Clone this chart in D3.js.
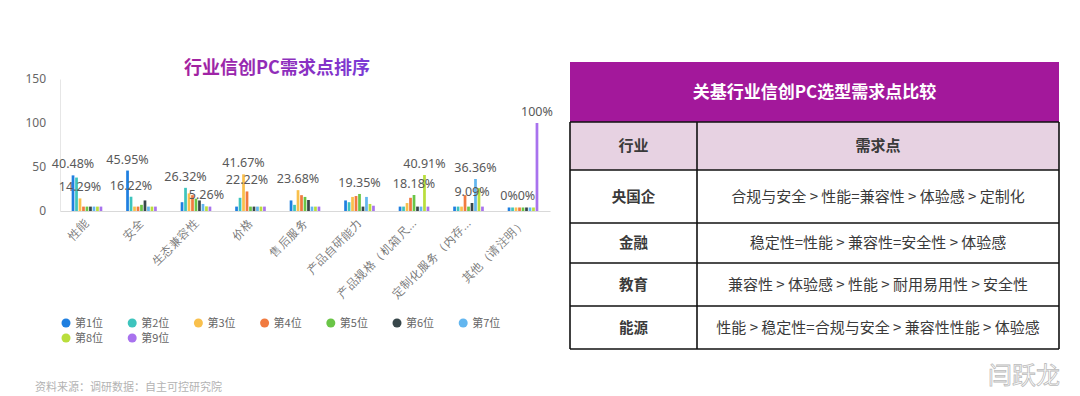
<!DOCTYPE html>
<html>
<head>
<meta charset="utf-8">
<script src="https://cdn.jsdelivr.net/npm/d3@7/dist/d3.min.js"></script>
<style>
  body { margin: 0; background: #fff; }
  svg { display: block; font-family: "Noto Sans CJK SC", "Noto Sans", sans-serif; }
</style>
</head>
<body>
<div class="chart"></div>
<script>
// data
var categories = ['性能', '安全', '生态兼容性', '价格', '售后服务', '产品自研能力', '产品规格（机箱尺...', '定制化服务（内存...', '其他（请注明）'];
var seriesNames = ['第1位', '第2位', '第3位', '第4位', '第5位', '第6位', '第7位', '第8位', '第9位'];
var seriesColors = ['#1f7fe0', '#3ec4bd', '#f9c04c', '#f17a3f', '#6ac547', '#38474a', '#63b6ef', '#b9de3c', '#a872ee'];
// one row per category, one value per rank
var rankValues = [
  [40.48, 38, 14.29, 5, 5, 5, 5, 5, 5],
  [45.95, 16.22, 5, 5, 7, 12, 5, 5, 5],
  [10, 26.32, 20, 18, 14, 12, 8, 5.26, 5],
  [5, 15, 41.67, 22.22, 5, 5, 5, 5, 5],
  [12, 7, 23.68, 18, 16, 12.5, 5, 5, 5],
  [12, 10, 16, 17, 19.35, 5, 16, 8, 6],
  [5, 5, 9, 15, 18.18, 5, 5, 40.91, 5],
  [5, 5, 5, 18, 5, 9.09, 36.36, 26, 5],
  [4, 4, 4, 4, 4, 4, 4, 4, 100]
];
var labelSeries = [[0, 2], [0, 1], [1, 7], [2, 3], [2], [4], [7, 4], [6, 5], [0, 5, 8]];
var labelTexts = [['40.48%', '14.29%'], ['45.95%', '16.22%'], ['26.32%', '5.26%'], ['41.67%', '22.22%'], ['23.68%'], ['19.35%'], ['40.91%', '18.18%'], ['36.36%', '9.09%'], ['0%', '0%', '100%']];
var yTicks = [0, 50, 100, 150];
var chartTitle = '行业信创PC需求点排序';
var sourceNote = '资料来源：调研数据：自主可控研究院';

var tableTitle = '关基行业信创PC选型需求点比较';
var tableHeads = ['行业', '需求点'];
var industries = ['央国企', '金融', '教育', '能源'];
var demands = [
  '合规与安全 > 性能=兼容性 > 体验感 > 定制化',
  '稳定性=性能 > 兼容性=安全性 > 体验感',
  '兼容性 > 体验感 > 性能 > 耐用易用性 > 安全性',
  '性能 > 稳定性=合规与安全 > 兼容性性能 > 体验感'
];

var width = 1080, height = 396;
var svg = d3.select('.chart').append('svg')
  .attr('width', width)
  .attr('height', height);

// ---- bar chart ----
var x = d3.scaleBand().domain(categories).range([60, 550]).paddingInner(0.41).paddingOuter(0.2);
var xs = d3.scaleBand().domain(d3.range(seriesNames.length)).range([0, x.bandwidth()]).padding(0.22);
var y = d3.scaleLinear().domain([0, 150]).range([211, 79]);

var grad = svg.append('defs').append('linearGradient').attr('id', 'titleGrad');
grad.append('stop').attr('offset', '0%').attr('stop-color', '#a5209e');
grad.append('stop').attr('offset', '100%').attr('stop-color', '#7a3ad6');

svg.append('text')
  .attr('x', 277).attr('y', 74)
  .attr('text-anchor', 'middle')
  .attr('font-size', 18).attr('font-weight', 'bold')
  .attr('fill', 'url(#titleGrad)')
  .text(chartTitle);

var yAxis = svg.append('g')
  .attr('transform', 'translate(60,0)')
  .call(d3.axisLeft(y).tickValues(yTicks).tickSize(0).tickPadding(14));
yAxis.select('.domain').attr('stroke', '#e6e6e6');
yAxis.selectAll('text').attr('font-size', 12).attr('fill', '#666').attr('font-family', '"Noto Sans", sans-serif');

var xAxis = svg.append('g')
  .attr('transform', 'translate(0,211)')
  .call(d3.axisBottom(x).tickSize(0).tickSizeOuter(0));
xAxis.select('.domain').attr('stroke', '#d9d9d9');
xAxis.selectAll('text')
  .attr('font-size', 11.5).attr('fill', '#777')
  .attr('text-anchor', 'end')
  .attr('dy', 0)
  .attr('transform', 'translate(3,13) rotate(-45)')
  .attr('y', 0).attr('x', 0);

var groups = svg.selectAll('.cat')
  .data(categories)
  .enter().append('g')
  .attr('class', 'cat')
  .attr('transform', function (d) { return 'translate(' + x(d) + ',0)'; });

groups.selectAll('rect')
  .data(function (d, i) { return rankValues[i]; })
  .enter().append('rect')
  .attr('x', function (d, j) { return xs(j); })
  .attr('y', function (d) { return y(d); })
  .attr('width', xs.bandwidth())
  .attr('height', function (d) { return y(0) - y(d); })
  .attr('fill', function (d, j) { return seriesColors[j]; });

groups.selectAll('.val')
  .data(function (d, i) {
    return labelSeries[i].map(function (s, k) { return { s: s, v: rankValues[i][s], t: labelTexts[i][k] }; });
  })
  .enter().append('text')
  .attr('class', 'val')
  .attr('x', function (d) { return xs(d.s) + xs.bandwidth() / 2; })
  .attr('y', function (d) { return y(d.v) - 7; })
  .attr('text-anchor', 'middle')
  .attr('font-size', 12.5)
  .attr('font-family', '"Noto Sans", sans-serif')
  .attr('fill', '#595959')
  .text(function (d) { return d.t; });

// legend, 7 per row
var legend = svg.selectAll('.leg')
  .data(seriesNames)
  .enter().append('g')
  .attr('class', 'leg')
  .attr('transform', function (d, i) { return 'translate(' + (66 + (i % 7) * 66.2) + ',' + (323 + Math.floor(i / 7) * 15) + ')'; });
legend.append('circle').attr('r', 4.5).attr('fill', function (d, i) { return seriesColors[i]; });
legend.append('text')
  .attr('x', 9).attr('y', 4)
  .attr('font-size', 11).attr('fill', '#666')
  .text(function (d) { return d; });

svg.append('text')
  .attr('x', 35).attr('y', 391)
  .attr('font-size', 11).attr('fill', '#b3b3b3')
  .text(sourceNote);

// ---- table ----
var tLeft = 570, tRight = 1059, tDivide = 697;
var rowEdges = [62, 122, 170, 223, 263, 306, 349];

svg.append('rect')
  .attr('x', tLeft).attr('y', rowEdges[0])
  .attr('width', tRight - tLeft).attr('height', rowEdges[1] - rowEdges[0])
  .attr('fill', '#a3189b');
svg.append('text')
  .attr('x', (tLeft + tRight) / 2).attr('y', (rowEdges[0] + rowEdges[1]) / 2 + 6)
  .attr('text-anchor', 'middle')
  .attr('font-size', 17).attr('font-weight', 'bold').attr('fill', '#fff')
  .text(tableTitle);

svg.append('rect')
  .attr('x', tLeft).attr('y', rowEdges[1])
  .attr('width', tRight - tLeft).attr('height', rowEdges[2] - rowEdges[1])
  .attr('fill', '#e7d2e2');

var colCenters = [(tLeft + tDivide) / 2, (tDivide + tRight) / 2];
svg.selectAll('.thead')
  .data(tableHeads)
  .enter().append('text')
  .attr('class', 'thead')
  .attr('x', function (d, i) { return colCenters[i]; })
  .attr('y', (rowEdges[1] + rowEdges[2]) / 2 + 5)
  .attr('text-anchor', 'middle')
  .attr('font-size', 15).attr('font-weight', 'bold').attr('fill', '#3a3a3a')
  .text(function (d) { return d; });

var rows = svg.selectAll('.trow')
  .data(industries)
  .enter().append('g')
  .attr('class', 'trow');
rows.append('text')
  .attr('x', colCenters[0])
  .attr('y', function (d, i) { return (rowEdges[i + 2] + rowEdges[i + 3]) / 2 + 5; })
  .attr('text-anchor', 'middle')
  .attr('font-size', 14.5).attr('font-weight', 'bold').attr('fill', '#3a3a3a')
  .text(function (d) { return d; });
rows.append('text')
  .attr('x', colCenters[1])
  .attr('y', function (d, i) { return (rowEdges[i + 2] + rowEdges[i + 3]) / 2 + 5; })
  .attr('text-anchor', 'middle')
  .attr('font-size', 15).attr('fill', '#3a3a3a')
  .text(function (d, i) { return demands[i]; });

// grid lines of the table
var lines = svg.append('g').attr('stroke', '#111').attr('stroke-width', 1.6);
rowEdges.slice(1).forEach(function (e) {
  lines.append('line').attr('x1', tLeft).attr('x2', tRight).attr('y1', e).attr('y2', e);
});
lines.append('line').attr('x1', tLeft).attr('x2', tLeft).attr('y1', rowEdges[1]).attr('y2', rowEdges[6]);
lines.append('line').attr('x1', tRight).attr('x2', tRight).attr('y1', rowEdges[1]).attr('y2', rowEdges[6]);
lines.append('line').attr('x1', tDivide).attr('x2', tDivide).attr('y1', rowEdges[1]).attr('y2', rowEdges[6]);

// watermark
svg.append('text')
  .attr('x', 1024).attr('y', 384)
  .attr('text-anchor', 'middle')
  .attr('font-size', 24)
  .attr('fill', '#fff').attr('stroke', '#bbb').attr('stroke-width', 0.8)
  .text('闫跃龙');
</script>
</body>
</html>
